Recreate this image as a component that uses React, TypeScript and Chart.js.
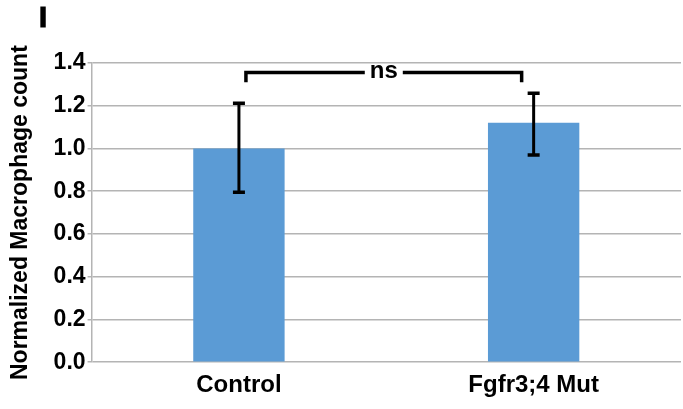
import React, { useEffect, useRef } from "react";
import { Chart, registerables } from "chart.js";

Chart.register(...registerables);

const categories = ["Control", "Fgfr3;4 Mut"];
const means = [1.0, 1.12];
const errLow = [0.795, 0.97];
const errHigh = [1.212, 1.258];
const yTicks = [0, 0.2, 0.4, 0.6, 0.8, 1.0, 1.2, 1.4];
const sigLabel = "ns";
const sigLevel = 1.355;
const sigDrop = 1.31;
const panelLabel = "I";

const FONT = "'Liberation Sans', Arial, Helvetica, sans-serif";

const overlay = {
  id: "overlay",
  afterDatasetsDraw(chart: any) {
    const { ctx, scales } = chart;
    const x = scales.x;
    const y = scales.y;
    ctx.save();
    ctx.strokeStyle = "#000";
    ctx.lineCap = "butt";
    categories.forEach((_, i) => {
      const cx = x.getPixelForValue(i);
      const yl = y.getPixelForValue(errLow[i]);
      const yh = y.getPixelForValue(errHigh[i]);
      ctx.lineWidth = 3;
      ctx.beginPath();
      ctx.moveTo(cx, yl);
      ctx.lineTo(cx, yh);
      ctx.stroke();
      ctx.lineWidth = 3.5;
      ctx.beginPath();
      ctx.moveTo(cx - 6, yh);
      ctx.lineTo(cx + 6, yh);
      ctx.moveTo(cx - 6, yl);
      ctx.lineTo(cx + 6, yl);
      ctx.stroke();
    });
    const x0 = x.getPixelForValue(0) + 7;
    const x1 = x.getPixelForValue(1) - 12;
    const yb = y.getPixelForValue(sigLevel);
    const yd = y.getPixelForValue(sigDrop);
    const mid = (x0 + x1) / 2;
    ctx.font = `bold 24px ${FONT}`;
    const tw = ctx.measureText(sigLabel).width;
    const gap = tw / 2 + 5;
    ctx.lineWidth = 3.5;
    ctx.lineJoin = "miter";
    ctx.beginPath();
    ctx.moveTo(x0, yd);
    ctx.lineTo(x0, yb);
    ctx.lineTo(mid - gap, yb);
    ctx.moveTo(mid + gap, yb);
    ctx.lineTo(x1, yb);
    ctx.lineTo(x1, yd);
    ctx.stroke();
    ctx.fillStyle = "#000";
    ctx.textAlign = "center";
    ctx.textBaseline = "middle";
    ctx.fillText(sigLabel, mid, yb - 1);
    ctx.font = `900 29px ${FONT}`;
    ctx.textAlign = "left";
    ctx.lineWidth = 1.2;
    ctx.fillText(panelLabel, 39, 19);
    ctx.strokeText(panelLabel, 39, 19);
    ctx.restore();
  },
};

export default function App() {
  const ref = useRef<HTMLCanvasElement | null>(null);
  useEffect(() => {
    document.body.style.margin = "0";
    const chart = new Chart(ref.current as HTMLCanvasElement, {
      type: "bar",
      data: {
        labels: categories,
        datasets: [
          {
            data: means,
            backgroundColor: "#5b9bd5",
            borderWidth: 0,
            barPercentage: 0.62,
            categoryPercentage: 0.5,
          },
        ],
      },
      options: {
        animation: false,
        responsive: false,
        layout: { padding: { top: 63, right: 2, bottom: 0, left: 0 } },
        plugins: { legend: { display: false }, tooltip: { enabled: false } },
        scales: {
          x: {
            grid: { display: false, drawTicks: false },
            border: { display: false },
            ticks: {
              color: "#000",
              padding: 9,
              font: { family: FONT, size: 24, weight: "bold" },
            },
          },
          y: {
            min: 0,
            max: 1.4,
            afterBuildTicks: (axis: any) => {
              axis.ticks = yTicks.map((v) => ({ value: v }));
            },
            grid: { color: "#b4b4b4", lineWidth: 1.5, tickLength: 4 },
            border: { color: "#b4b4b4", width: 1.5 },
            ticks: {
              color: "#000",
              padding: 2,
              font: { family: FONT, size: 23, weight: "bold" },
              callback: (v: any) => Number(v).toFixed(1),
            },
            title: {
              display: true,
              text: "Normalized Macrophage count",
              color: "#000",
              padding: { top: 7, bottom: 17 },
              font: { family: FONT, size: 23, weight: "bold" },
            },
          },
        },
      },
      plugins: [overlay],
    });
    return () => chart.destroy();
  }, []);
  return (
    <div style={{ width: 683, height: 409 }}>
      <canvas ref={ref} width={683} height={409} />
    </div>
  );
}
